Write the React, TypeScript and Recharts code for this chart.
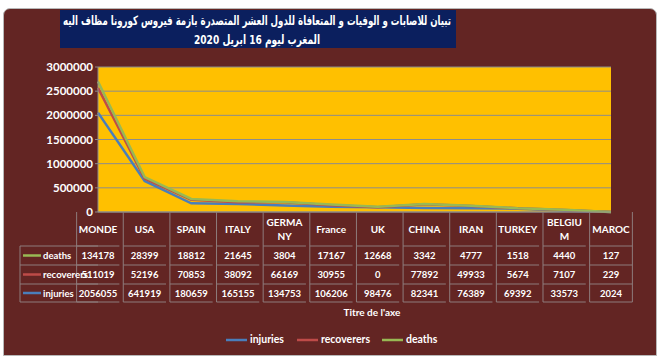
import { AreaChart, Area, XAxis, YAxis, CartesianGrid } from "recharts";

const countries = ["MONDE", "USA", "SPAIN", "ITALY", "GERMANY", "France", "UK", "CHINA", "IRAN", "TURKEY", "BELGIUM", "MAROC"];
// header labels as Excel wraps them in the data table
const headerLabels = ["MONDE", "USA", "SPAIN", "ITALY", "GERMA\nNY", "France", "UK", "CHINA", "IRAN", "TURKEY", "BELGIU\nM", "MAROC"];
const injuries = [2056055, 641919, 180659, 165155, 134753, 106206, 98476, 82341, 76389, 69392, 33573, 2024];
const recoverers = [511019, 52196, 70853, 38092, 66169, 30955, 0, 77892, 49933, 5674, 7107, 229];
const deaths = [134178, 28399, 18812, 21645, 3804, 17167, 12668, 3342, 4777, 1518, 4440, 127];
const yTicks = [0, 500000, 1000000, 1500000, 2000000, 2500000, 3000000];

const BLUE = "#4A7EBB";
const RED = "#BE4B48";
const GREEN = "#98B954";
const MAROON = "#632523";
const BORDER = "#8E7C7C";
const FONT = "Lato, 'Liberation Sans', sans-serif";

const PLOT_LEFT = 98;
const PLOT_RIGHT = 611;
const PLOT_BOTTOM = 212;
const COL_W = (PLOT_RIGHT - PLOT_LEFT) / countries.length;
const ROW_Y = [246, 265, 284, 302];

const tableRows = [
  { name: "deaths", color: GREEN, values: deaths },
  { name: "recoverers", color: RED, values: recoverers },
  { name: "injuries", color: BLUE, values: injuries },
];

const data = countries.map((name, i) => ({
  name,
  injuries: injuries[i],
  recoverers: recoverers[i],
  deaths: deaths[i],
}));

function TableTick(props: any) {
  const { x, payload } = props;
  const i = countries.indexOf(payload.value);
  const left = x - COL_W / 2;
  const lines = headerLabels[i].split("\n");
  const headerMid = (PLOT_BOTTOM + ROW_Y[0]) / 2;
  return (
    <g>
      <line x1={left} x2={left} y1={PLOT_BOTTOM} y2={ROW_Y[3]} stroke={BORDER} />
      {i === countries.length - 1 && (
        <line x1={left + COL_W} x2={left + COL_W} y1={PLOT_BOTTOM} y2={ROW_Y[3]} stroke={BORDER} />
      )}
      {ROW_Y.map((y) => (
        <line key={y} x1={left} x2={left + COL_W} y1={y} y2={y} stroke={BORDER} />
      ))}
      {lines.map((t, k) => (
        <text
          key={k}
          x={x}
          y={headerMid + (k - (lines.length - 1) / 2) * 14}
          textAnchor="middle"
          dominantBaseline="central"
          fill="#fff"
          fontSize={10}
          fontWeight="bold"
          fontFamily={FONT}
        >
          {t}
        </text>
      ))}
      {tableRows.map((r, k) => (
        <text
          key={r.name}
          x={x}
          y={(ROW_Y[k] + ROW_Y[k + 1]) / 2}
          textAnchor="middle"
          dominantBaseline="central"
          fill="#fff"
          fontSize={9.5}
          fontWeight="bold"
          fontFamily={FONT}
        >
          {r.values[i]}
        </text>
      ))}
    </g>
  );
}

export default function App() {
  const legend = [
    { name: "injuries", color: BLUE },
    { name: "recoverers", color: RED },
    { name: "deaths", color: GREEN },
  ];
  return (
    <div style={{ position: "absolute", left: 0, top: 0, width: 663, height: 360, background: "#fff", overflow: "hidden" }}>
      <div
        style={{
          position: "absolute",
          left: 3,
          top: 8,
          width: 652,
          height: 346,
          background: MAROON,
          border: "1px solid #b8b8b8",
          borderRadius: "7px 7px 0 0",
        }}
      />
      <div style={{ position: "absolute", left: 0, top: 0 }}>
        <AreaChart width={663} height={360} data={data} margin={{ top: 67, right: 52, bottom: 58, left: 38 }}>
          <CartesianGrid vertical={false} stroke="#8C8C8C" fill="#FFC000" fillOpacity={1} />
          <YAxis
            width={60}
            domain={[0, 3000000]}
            ticks={yTicks}
            interval={0}
            axisLine={{ stroke: "#8C8C8C" }}
            tickLine={{ stroke: "#8C8C8C" }}
            tickSize={3}
            tickMargin={2}
            tick={{ fill: "#fff", fontSize: 11.5, fontWeight: "bold", fontFamily: FONT }}
          />
          <XAxis
            dataKey="name"
            height={90}
            interval={0}
            axisLine={{ stroke: "#8C8C8C" }}
            tickLine={false}
            tickSize={0}
            tick={<TableTick />}
          />
          <Area type="linear" dataKey="injuries" stackId="1" stroke={BLUE} strokeWidth={2.5} fill="none" dot={false} activeDot={false} isAnimationActive={false} />
          <Area type="linear" dataKey="recoverers" stackId="1" stroke={RED} strokeWidth={2.5} fill="none" dot={false} activeDot={false} isAnimationActive={false} />
          <Area type="linear" dataKey="deaths" stackId="1" stroke={GREEN} strokeWidth={2.5} fill="none" dot={false} activeDot={false} isAnimationActive={false} />
        </AreaChart>
      </div>
      <svg width={663} height={360} style={{ position: "absolute", left: 0, top: 0, pointerEvents: "none" }}>
        <rect x={60} y={10} width={396} height={38} fill="#0B1F5E" />
        <text
          x={257}
          y={20}
          textAnchor="middle"
          dominantBaseline="central"
          direction="rtl"
          fill="#fff"
          fontSize={13}
          fontWeight="bold"
          fontFamily="'DejaVu Sans', sans-serif"
          textLength={388}
          lengthAdjust="spacingAndGlyphs"
        >
          تبيان للاصابات و الوفيات و المتعافاة  للدول العشر المتصدرة بازمة فيروس كورونا مظاف اليه
        </text>
        <text
          x={257}
          y={39}
          textAnchor="middle"
          dominantBaseline="central"
          direction="rtl"
          fill="#fff"
          fontSize={13}
          fontWeight="bold"
          fontFamily="'DejaVu Sans', sans-serif"
          textLength={126}
          lengthAdjust="spacingAndGlyphs"
        >
          المغرب ليوم 16 ابريل 2020
        </text>
        <line x1={20} x2={PLOT_LEFT} y1={ROW_Y[0]} y2={ROW_Y[0]} stroke={BORDER} />
        <line x1={20} x2={20} y1={ROW_Y[0]} y2={ROW_Y[3]} stroke={BORDER} />
        {tableRows.map((r, k) => {
          const cy = (ROW_Y[k] + ROW_Y[k + 1]) / 2;
          return (
            <g key={r.name}>
              <line x1={20} x2={PLOT_LEFT} y1={ROW_Y[k + 1]} y2={ROW_Y[k + 1]} stroke={BORDER} />
              <line x1={23} x2={41} y1={cy} y2={cy} stroke={r.color} strokeWidth={2.5} />
              <text
                x={43}
                y={cy}
                dominantBaseline="central"
                fill="#fff"
                fontSize={r.name.length > 8 ? 8.5 : 9.5}
                fontWeight="bold"
                fontFamily={FONT}
                textLength={r.name.length > 8 ? 45 : undefined}
                lengthAdjust="spacingAndGlyphs"
              >
                {r.name}
              </text>
            </g>
          );
        })}
        <text x={372} y={312} textAnchor="middle" dominantBaseline="central" fill="#fff" fontSize={10} fontWeight="bold" fontFamily={FONT}>
          Titre de l'axe
        </text>
        {legend.map((l, k) => {
          const xs = [226, 297, 382][k];
          return (
            <g key={l.name}>
              <line x1={xs} x2={xs + 21} y1={340} y2={340} stroke={l.color} strokeWidth={2.5} />
              <text x={xs + 24} y={339} dominantBaseline="central" fill="#fff" fontSize={10.5} fontWeight="bold" fontFamily={FONT}>
                {l.name}
              </text>
            </g>
          );
        })}
      </svg>
    </div>
  );
}
